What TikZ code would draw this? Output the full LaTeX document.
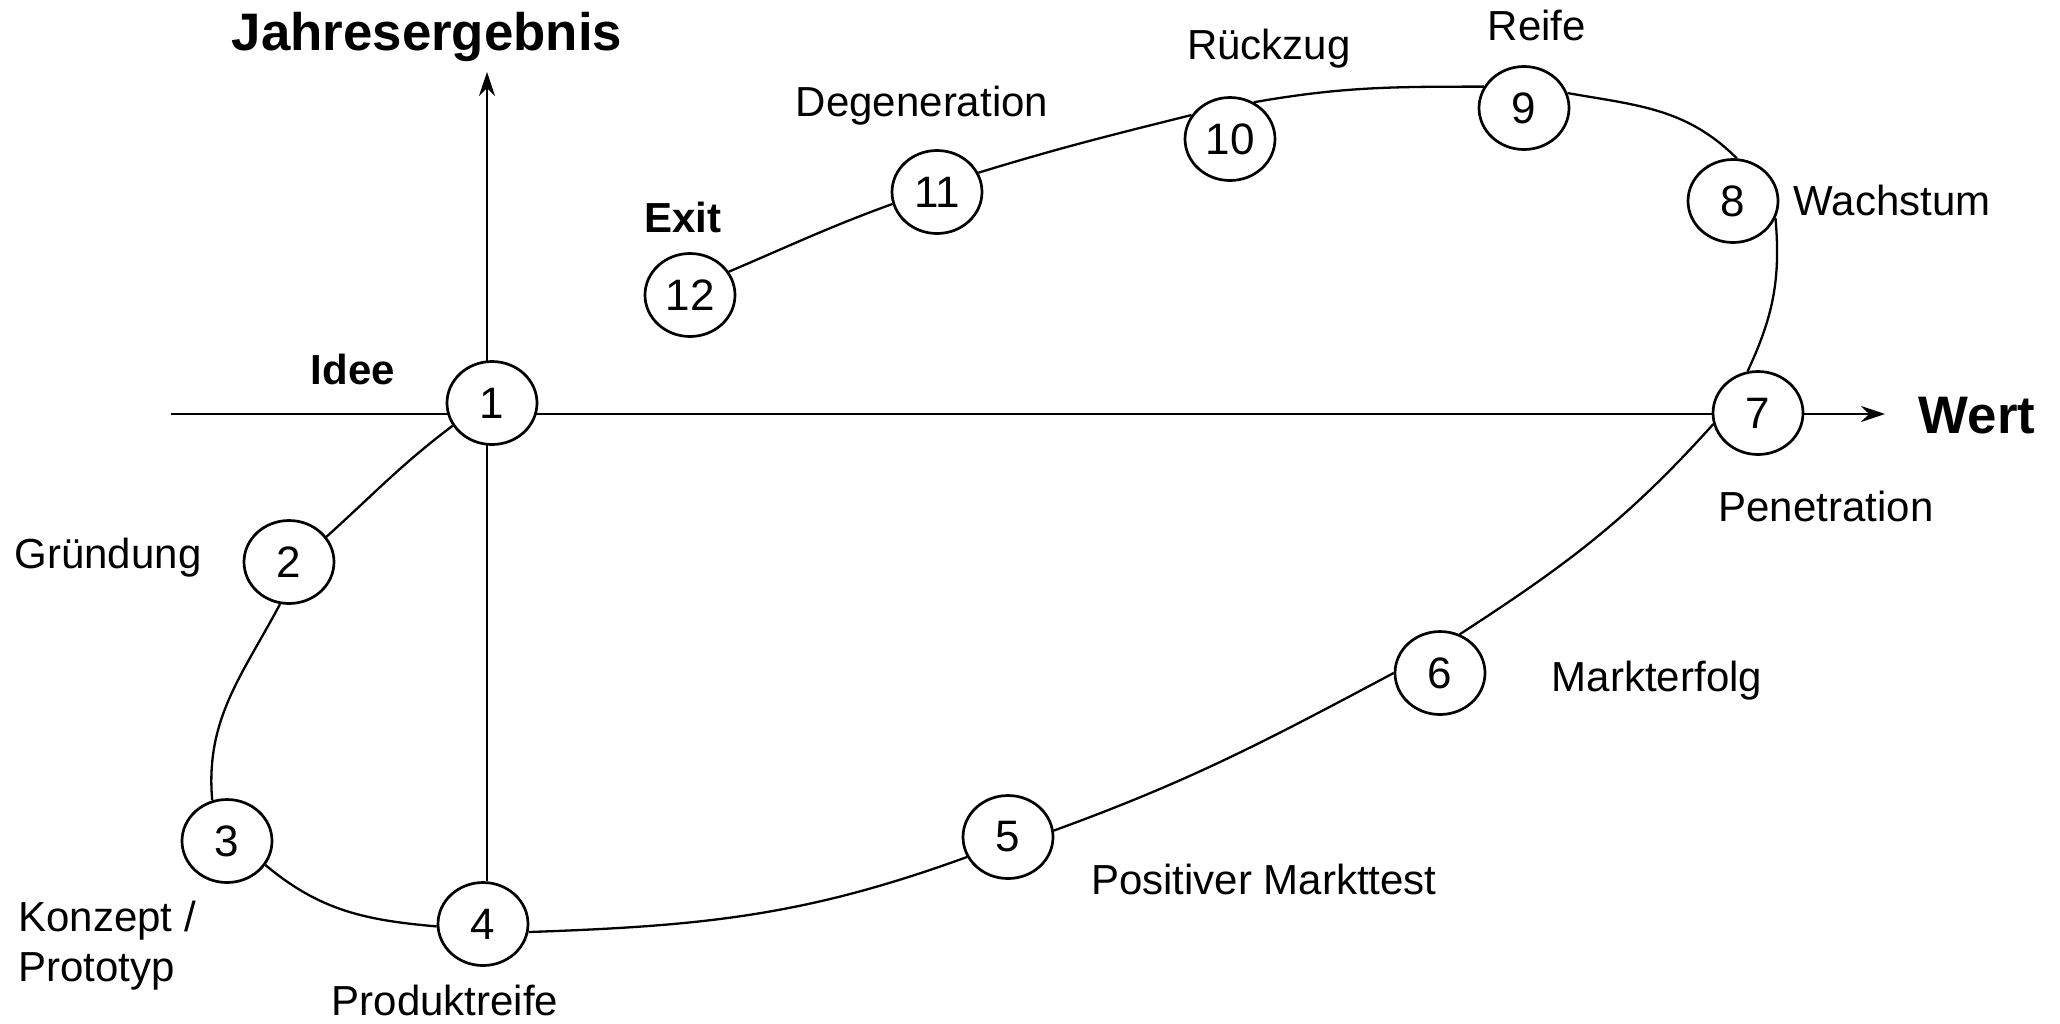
\documentclass[tikz,border=0pt]{standalone}
\usepackage{fontspec}
\setmainfont{Liberation Sans}
\usetikzlibrary{shapes.geometric,arrows.meta,backgrounds}
\begin{document}
\begin{tikzpicture}[x=0.5pt,y=-0.5pt,
  stage/.style={ellipse,draw,line width=1.35pt,fill=white,minimum width=45pt,minimum height=41.5pt,inner sep=0pt,font=\fontsize{22}{26}\selectfont},
  lbl/.style={font=\fontsize{21}{25}\selectfont,inner sep=0pt},
  blbl/.style={font=\bfseries\fontsize{21}{25}\selectfont,inner sep=0pt},
  axlbl/.style={font=\bfseries\fontsize{26.4}{30}\selectfont,inner sep=0pt},
  loopline/.style={line width=1.15pt},
  axisline/.style={line width=1.1pt,-{Stealth[length=12pt,width=8pt,inset=4pt]}}]
\useasboundingbox (0,0) rectangle (2060,1023);
\node[stage] (n1) at (492,403) {1};
\node[stage] (n2) at (289,562) {2};
\node[stage] (n3) at (227,841) {3};
\node[stage] (n4) at (483,924) {4};
\node[stage] (n5) at (1008,837) {5};
\node[stage] (n6) at (1440,673) {6};
\node[stage] (n7) at (1758,413) {7};
\node[stage] (n8) at (1733,201) {8};
\node[stage] (n9) at (1524,108) {9};
\node[stage] (n10) at (1230,139) {10};
\node[stage] (n11) at (937,192) {11};
\node[stage] (n12) at (690,295) {12};
\coordinate (xL) at (171,414);
\coordinate (xR) at (1885,414);
\coordinate (yT) at (487,72);
\node[axlbl] (ylab) at (427,37) {Jahresergebnis};
\node[axlbl] (xlab) at (1977,416) {Wert};
\node[blbl] (idee) at (353,369) {Idee};
\node[blbl] (exit) at (683,217) {Exit};
\node[lbl] (l11) at (922,106) {Degeneration};
\node[lbl] (l10) at (1269,49) {Rückzug};
\node[lbl] (l9) at (1537,25) {Reife};
\node[lbl] (l8) at (1892,200) {Wachstum};
\node[lbl] (l7) at (1826,506) {Penetration};
\node[lbl] (l6) at (1657,681) {Markterfolg};
\node[lbl] (l5) at (1264,879) {Positiver Markttest};
\node[lbl] (l4) at (445,1000) {Produktreife};
\node[lbl,align=left,anchor=west] (l3) at (18,946) {Konzept /\\Prototyp};
\node[lbl] (l2) at (108,558) {Gründung};
\begin{scope}[on background layer]
\draw[axisline] (xL) -- (xR);
\draw[axisline] (yT |- n4.north) -- (yT);
\draw[loopline] (n1.210) to[out=217,in=42] (n2.34);
\draw[loopline] (n2.258) to[out=242,in=95] (n3.110);
\draw[loopline] (n3.328) to[out=-40,in=175] (n4.183);
\draw[loopline] (n4.-10) to[out=2,in=200] (n5.206);
\draw[loopline] (n5.8) to[out=20,in=208] (n6.180);
\draw[loopline] (n6.63) to[out=33,in=228] (n7.194);
\draw[loopline] (n7.104) to[out=65,in=-85] (n8.-22);
\draw[loopline] (n8.85) to[out=135,in=-10] (n9.19);
\draw[loopline] (n9.152) to[out=180,in=10] (n10.57);
\draw[loopline] (n10.148) to[out=194,in=17] (n11.25);
\draw[loopline] (n11.195) to[out=200,in=23] (n12.31);
\end{scope}
\end{tikzpicture}
\end{document}
